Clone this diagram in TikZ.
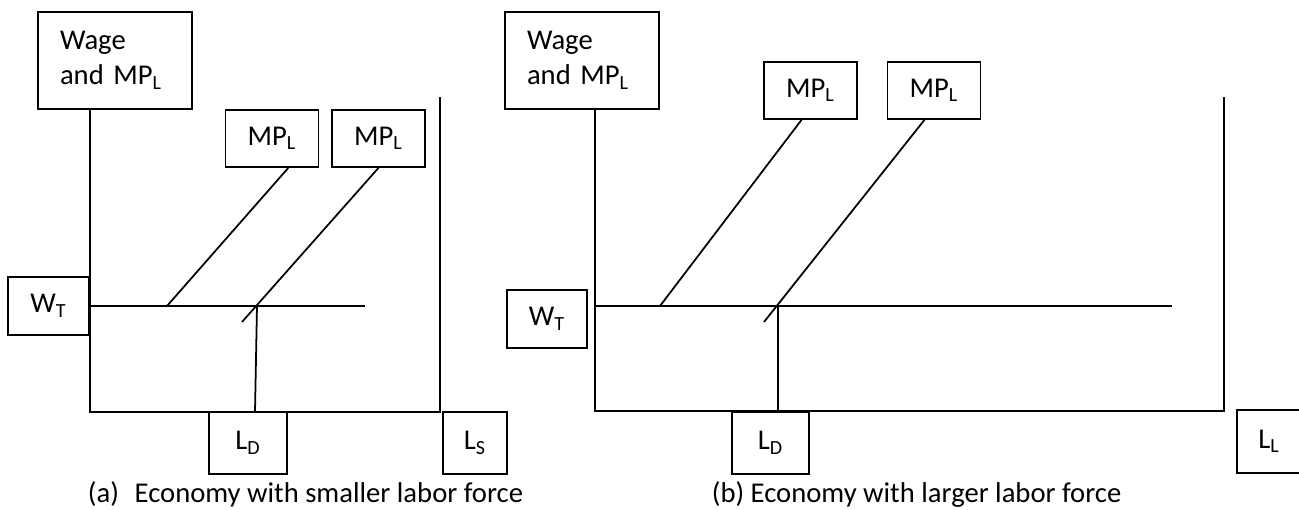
\documentclass[tikz,border=0pt]{standalone}
\usepackage{fontspec}
\setmainfont{Carlito}
\begin{document}
\begin{tikzpicture}[
    x=0.02cm, y=-0.02cm,
    line width=1pt,
    every node/.style={font=\fontsize{16.3pt}{20pt}\selectfont, inner sep=0pt},
    lbox/.style={draw, minimum width=1.86cm, minimum height=1.14cm},
    wagebox/.style={draw, text width=2.2cm, inner xsep=0.44cm, minimum height=1.94cm, align=left}
]
\useasboundingbox (0,0) rectangle (1299,510);

\node[wagebox] (wagea) at (115,60.5) {Wage\\and MP\textsubscript{L}};
\node[lbox] (mpa1) at (272,138.5) {MP\textsubscript{L}};
\node[lbox] (mpa2) at (378.5,138.5) {MP\textsubscript{L}};
\node[lbox, minimum width=1.62cm, minimum height=1.16cm] (wta) at (48.5,306) {W\textsubscript{T}};
\node[lbox, minimum width=1.56cm, minimum height=1.24cm] (lda) at (248,443) {L\textsubscript{D}};
\node[lbox, minimum width=1.28cm, minimum height=1.24cm] (lsa) at (475,443) {L\textsubscript{S}};
\coordinate (oa) at (90,412);
\coordinate (ra) at (440,412);
\coordinate (ta) at (440,97);
\coordinate (ea) at (365,306);
\coordinate (ca1) at (167,306);
\coordinate (ca2) at (242,322);
\coordinate (xa) at (257,306);
\coordinate (ba) at (255,412);
\draw (wagea.south -| oa) -- (oa) -- (ra) -- (ta);
\draw (wta.east) -- (ea);
\draw (mpa1.-61) -- (ca1);
\draw (mpa2.south) -- (ca2);
\draw (xa) -- (ba);
\node[anchor=base west] (capa) at (87,502) {(a)\hspace{0.55em}Economy with smaller labor force};

\node[wagebox] (wageb) at (582,60.5) {Wage\\and MP\textsubscript{L}};
\node[lbox] (mpb1) at (810.5,90.5) {MP\textsubscript{L}};
\node[lbox] (mpb2) at (934,90.5) {MP\textsubscript{L}};
\node[lbox, minimum width=1.6cm, minimum height=1.16cm] (wtb) at (547,319) {W\textsubscript{T}};
\node[lbox, minimum width=1.54cm, minimum height=1.24cm] (ldb) at (770.5,443) {L\textsubscript{D}};
\node[lbox, minimum width=1.28cm, minimum height=1.26cm] (llb) at (1269,441.5) {L\textsubscript{L}};
\coordinate (ob) at (595,411);
\coordinate (rb) at (1224,411);
\coordinate (tb) at (1224,97);
\coordinate (wb) at (595,306);
\coordinate (eb) at (1172,306);
\coordinate (cb1) at (660,306);
\coordinate (cb2) at (764,322);
\coordinate (xb) at (778,306);
\draw (wageb.south -| ob) -- (ob) -- (rb) -- (tb);
\draw (wb) -- (eb);
\draw (mpb1.-107) -- (cb1);
\draw (mpb2.-108) -- (cb2);
\draw (xb) -- (xb |- ob);
\node[anchor=base west] (capb) at (711,502) {(b) Economy with larger labor force};
\end{tikzpicture}
\end{document}
